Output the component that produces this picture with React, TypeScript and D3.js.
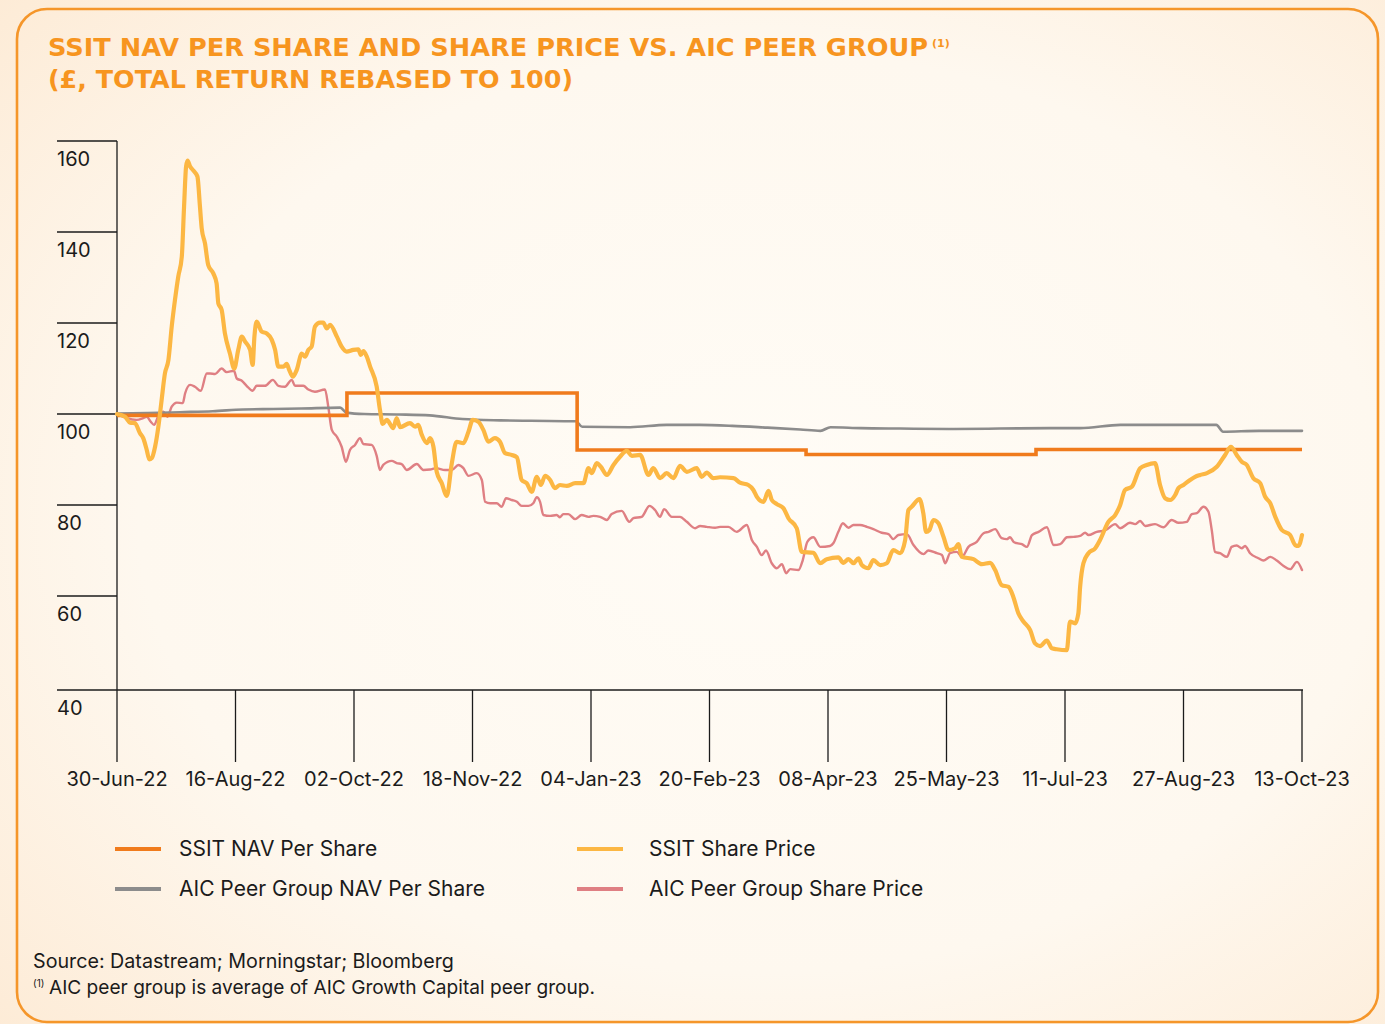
import React from "react";
import * as d3 from "d3";

const START = Date.UTC(2022, 5, 30);
const END = Date.UTC(2023, 9, 13);

const xTickDates = ["2022-06-30","2022-08-16","2022-10-02","2022-11-18","2023-01-04","2023-02-20","2023-04-08","2023-05-25","2023-07-11","2023-08-27","2023-10-13"];
const yTicks = [160, 140, 120, 100, 80, 60, 40];

// [days since 30-Jun-22, value]
const ssitNav: [number, number][] = [[0,99.7],[91.2,104.6],[182.5,92.1],[273.3,91.1],[364.5,92.2],[470,92.2]];

const aicNav: [number, number][] = [[0,100.1],[12,100.2],[25,100.4],[38,100.6],[50,101.0],[62,101.1],[73,101.2],[88.5,101.4],[91,100.3],[98,100],[112,99.9],[124,99.7],[137,98.9],[152,98.6],[164,98.5],[182,98.4],[184.5,97.2],[203.5,97.1],[218,97.6],[231,97.6],[244,97.4],[258,97.0],[271,96.6],[279,96.3],[283,97.1],[295,96.9],[310.6,96.8],[330,96.7],[350,96.8],[370,96.9],[382,96.9],[398,97.6],[418,97.6],[436,97.6],[438.7,96.1],[453,96.3],[470,96.3]];

const ssitPrice: [number, number][] = [[0,100],[3.2,99.4],[5.2,98.1],[7.1,98.0],[9.1,95.8],[10.4,94.7],[11.8,92.1],[12.8,90.0],[13.8,90.3],[15.1,92.8],[16.4,97.2],[17.7,103.1],[19.0,108.9],[20.4,111.9],[21.7,119.2],[23.0,125.1],[24.3,130.2],[25.7,134.6],[26.6,145.6],[27.4,154.4],[28.0,155.7],[29.0,154.4],[30.3,153.5],[31.9,152.2],[32.9,145.6],[33.6,140.8],[34.9,137.5],[36.2,132.7],[38.2,130.9],[39.5,128.7],[40.2,124.3],[41.5,122.9],[42.8,117.7],[44.8,113.3],[46.5,110.0],[48.1,114.1],[49.5,117.0],[50.8,115.9],[52.8,114.1],[53.8,110.8],[54.5,117.0],[55.4,120.3],[57.4,118.1],[59.4,117.7],[61.4,116.3],[62.7,114.1],[64.0,110.4],[66.0,110.4],[67.3,111.0],[68.3,109.7],[69.7,108.2],[71.3,109.7],[73.3,113.3],[74.6,112.6],[75.9,114.1],[77.2,114.8],[78.5,119.2],[80.5,120.1],[81.8,120.1],[83.2,118.8],[84.5,119.6],[87.2,117.0],[89.1,114.8],[91.1,113.7],[93.7,114.1],[95.7,114.2],[96.7,113.0],[97.7,113.8],[99.0,112.7],[100.4,110.4],[103.0,106.0],[104.3,100.9],[105.4,97.8],[107.0,98.7],[109.6,96.9],[110.9,99.1],[112.3,97.1],[116.2,98.0],[118.2,97.2],[119.5,97.6],[120.9,95.4],[122.9,93.6],[124.2,94.7],[125.5,92.8],[126.8,87.3],[128.8,84.8],[130.8,82.0],[132.8,89.2],[134.7,93.9],[137.4,93.6],[139.4,96.1],[141.1,98.7],[143.3,98.3],[145.3,96.5],[147.3,93.9],[149.9,94.7],[151.9,93.9],[153.9,91.4],[156.6,91.0],[158.6,90.5],[160.5,85.5],[162.5,84.8],[164.5,82.9],[166.5,86.2],[168.1,84.4],[169.8,86.4],[171.8,85.5],[173.7,83.7],[175.7,84.4],[178.4,84.2],[181.7,84.8],[185.0,84.8],[187.0,88.1],[188.3,87.0],[190.3,89.2],[191.9,88.4],[194.3,86.6],[196.9,88.8],[199.5,90.6],[202.2,91.9],[204.2,90.8],[207.5,91.0],[210.8,86.6],[212.7,88.1],[215.4,85.9],[218.0,87.0],[220.7,85.9],[223.3,88.6],[226.0,87.3],[229.9,88.1],[231.9,86.2],[233.9,87.1],[236.5,85.9],[239.2,86.1],[244.5,85.9],[247.1,84.9],[250.4,84.4],[252.4,83.3],[253.8,81.8],[256.4,80.7],[258.4,83.1],[259.7,81.1],[261.7,80.2],[264.3,79.3],[266.3,77.1],[269.6,74.9],[271.6,69.7],[276.2,69.5],[278.9,67.2],[281.5,68.1],[286.1,68.5],[288.1,67.3],[290.1,68.1],[292.1,67.2],[294.1,68.3],[295.4,66.8],[298.0,66.1],[300.0,67.9],[302.7,66.8],[305.3,67.2],[307.9,70.1],[310.6,69.4],[312.6,72.3],[313.9,78.9],[315.2,79.6],[318.3,81.3],[319.8,78.2],[320.9,74.1],[322.2,74.5],[323.8,76.7],[325.8,76.0],[327.8,73.0],[329.8,70.1],[332.4,70.5],[333.7,71.4],[335.1,68.6],[339.7,68.1],[343.0,67.0],[346.3,67.3],[348.3,65.7],[350.9,62.4],[353.6,62.0],[355.5,59.8],[357.5,56.2],[359.5,54.4],[362.2,52.5],[364.1,49.6],[366.1,49.0],[368.8,50.2],[370.8,48.5],[372.7,48.3],[376.7,48.1],[378.0,54.4],[380.0,54.0],[381.3,56.2],[382.0,62.0],[383.3,67.2],[385.3,69.4],[388.0,70.5],[389.9,72.3],[393.2,76.3],[395.9,77.8],[397.9,80.0],[399.8,83.3],[402.5,84.0],[405.8,88.1],[408.4,88.8],[411.7,89.2],[413.7,84.4],[415.7,81.5],[417.7,81.1],[419.7,82.2],[421.0,83.7],[423.0,84.4],[425.6,85.5],[427.6,86.2],[429.6,86.6],[432.3,87.0],[436.2,88.4],[439.5,91.0],[441.8,92.8],[444.1,91.0],[446.1,89.5],[448.1,88.8],[450.7,85.9],[453.4,84.8],[455.4,81.8],[457.4,80.4],[459.4,77.4],[462.0,74.5],[465.3,73.4],[467.3,71.2],[468.6,71.0],[470,73.4]];

const aicPrice: [number, number][] = [[0,100],[3.8,99.1],[7.8,98.7],[10.4,99.1],[11.8,99.4],[13.4,98.3],[14.7,97.6],[16.4,99.6],[18.4,100.5],[20.0,99.4],[21.7,101.6],[23.7,102.5],[26.1,102.4],[27.0,104.5],[29.0,106.4],[30.9,106.0],[33.2,105.1],[35.6,108.9],[36.9,108.9],[38.9,108.8],[41.5,110.0],[43.5,109.2],[46.4,109.5],[47.5,107.8],[49.5,107.3],[51.4,106.2],[53.8,105.1],[55.4,106.2],[58.7,106.2],[61.8,107.5],[64.0,106.2],[66.6,106.0],[69.3,107.5],[70.6,106.2],[73.9,106.2],[75.9,105.4],[78.5,104.9],[82.5,105.4],[83.8,101.6],[85.2,96.5],[87.2,95.0],[89.1,92.8],[90.8,89.5],[92.4,92.1],[94.4,93.2],[96.4,94.7],[97.7,93.4],[101.0,93.2],[103.0,90.8],[104.3,87.7],[105.6,88.8],[109.0,89.7],[110.9,89.2],[112.9,89.0],[114.9,87.7],[118.9,89.0],[121.5,87.7],[124.2,87.8],[126.5,88.1],[130.1,87.7],[132.8,87.7],[135.4,88.8],[137.4,88.1],[139.4,86.4],[142.7,87.0],[144.7,85.5],[146.0,80.7],[148.0,80.4],[150.6,80.4],[152.6,79.6],[154.3,81.5],[156.6,81.1],[158.6,80.7],[160.5,79.8],[163.2,79.8],[165.1,80.4],[166.5,81.7],[167.8,80.7],[169.1,77.8],[171.8,77.6],[174.4,77.8],[175.7,77.3],[177.0,78.0],[179.0,78.0],[181.7,76.9],[184.3,77.8],[187.0,77.4],[188.9,77.6],[191.6,77.4],[194.3,76.7],[196.2,78.0],[200.2,78.7],[203.2,76.3],[204.8,77.1],[208.1,77.4],[211.2,79.8],[213.4,78.9],[215.4,77.4],[217.0,79.1],[220.0,77.4],[223.3,77.4],[226.0,76.3],[229.3,74.9],[231.3,75.4],[233.9,75.2],[237.2,75.0],[239.2,75.2],[242.5,75.2],[245.8,74.1],[249.8,75.6],[251.8,72.3],[253.8,70.8],[255.7,69.0],[257.4,70.0],[259.7,67.2],[261.7,66.1],[263.7,67.0],[265.4,65.0],[267.0,65.9],[270.3,65.7],[272.0,67.9],[273.8,71.9],[276.2,72.9],[278.9,70.8],[282.8,71.0],[284.1,71.6],[286.1,74.1],[287.9,76.0],[290.1,75.0],[292.1,75.6],[294.7,75.6],[297.4,75.2],[300.0,74.7],[303.3,73.9],[306.0,73.6],[307.9,72.5],[309.9,73.4],[313.3,73.6],[315.9,71.2],[319.9,69.2],[321.8,70.0],[325.2,69.4],[327.2,69.0],[328.5,67.2],[330.4,69.4],[333.1,69.7],[335.1,68.6],[337.7,70.8],[341.0,71.9],[343.7,73.8],[345.7,74.1],[348.3,74.7],[350.9,72.7],[352.9,72.5],[354.2,72.9],[355.6,71.9],[356.9,71.6],[358.9,71.4],[360.9,70.8],[362.9,73.4],[365.5,74.1],[368.8,75.1],[371.5,71.2],[374.1,71.4],[376.8,72.9],[379.4,73.0],[382.0,73.2],[384.0,73.9],[385.3,73.4],[388.6,74.1],[391.9,74.4],[395.9,75.8],[397.9,74.9],[401.8,76.1],[403.8,75.8],[405.8,76.5],[407.8,75.4],[411.7,75.8],[415.0,75.1],[418.3,76.7],[421.0,76.1],[424.3,76.3],[426.3,78.0],[428.3,78.2],[430.9,79.6],[432.9,78.5],[434.2,74.5],[435.5,69.7],[437.5,69.4],[440.2,68.6],[442.1,70.8],[444.1,71.1],[446.1,70.5],[447.4,71.0],[449.4,69.4],[452.7,68.3],[454.7,67.8],[457.4,68.6],[460.0,67.8],[462.7,66.6],[465.3,65.9],[468.0,67.5],[470,65.7]];

const legendItems = [
  { label: "SSIT NAV Per Share", color: "#f07b1c" },
  { label: "SSIT Share Price", color: "#fcb743" },
  { label: "AIC Peer Group NAV Per Share", color: "#8c8c8c" },
  { label: "AIC Peer Group Share Price", color: "#df7f83" },
];

const titleLines = ["SSIT NAV PER SHARE AND SHARE PRICE VS. AIC PEER GROUP", "(£, TOTAL RETURN REBASED TO 100)"];
const sourceText = "Source: Datastream; Morningstar; Bloomberg";
const noteText = "AIC peer group is average of AIC Growth Capital peer group.";

const W = 1385, H = 1024;
const FONT = "Inter, 'Noto Sans', sans-serif";
const TEXT = "#1b1b1b";

export default function App() {
  const x = d3.scaleUtc().domain([new Date(START), new Date(END)]).range([117, 1302]);
  const y = d3.scaleLinear().domain([40, 160]).range([687, 141]);
  const toDate = (d: number) => new Date(START + d * 86400000);
  const line = d3.line<[number, number]>().x((p) => x(toDate(p[0]))).y((p) => y(p[1])).curve(d3.curveMonotoneX);
  const stepLine = d3.line<[number, number]>().x((p) => x(toDate(p[0]))).y((p) => y(p[1])).curve(d3.curveStepAfter);
  const fmt = d3.utcFormat("%d-%b-%y");
  const baseY = 690;
  const tickDates = xTickDates.map((s) => new Date(s + "T00:00:00Z"));

  return (
    <svg width={W} height={H} style={{ position: "absolute", left: 0, top: 0, display: "block" }} fontFamily={FONT}>
      <defs>
        <radialGradient id="bg" cx="0.55" cy="0.5" r="0.75">
          <stop offset="0" stopColor="#fffcf6" />
          <stop offset="0.6" stopColor="#fef8ef" />
          <stop offset="1" stopColor="#fdebd6" />
        </radialGradient>
      </defs>
      <rect x={0} y={0} width={W} height={H} fill="url(#bg)" />
      <rect x={17} y={9} width={1361} height={1013} rx={30} ry={30} fill="none" stroke="#f5962a" strokeWidth={2.6} />

      {/* Title */}
      <g fill="#f7951f" fontFamily="'DejaVu Sans', sans-serif" fontWeight="bold">
        <text x={48} y={56} fontSize={24} textLength={880} lengthAdjust="spacingAndGlyphs">{titleLines[0]}</text>
        <text x={932} y={47} fontSize={11}>(1)</text>
        <text x={48} y={88} fontSize={24} textLength={525} lengthAdjust="spacingAndGlyphs">{titleLines[1]}</text>
      </g>

      {/* Axes */}
      <g stroke={TEXT} strokeWidth={1.3}>
        <line x1={117} x2={117} y1={y(160)} y2={baseY} />
        {yTicks.filter((t) => t !== 40).map((t) => (
          <line key={t} x1={57} x2={117} y1={y(t)} y2={y(t)} />
        ))}
        <line x1={57} x2={1303} y1={baseY} y2={baseY} />
        {tickDates.map((d, i) => (
          <line key={i} x1={x(d)} x2={x(d)} y1={baseY} y2={762} />
        ))}
      </g>
      <g fill={TEXT} fontSize={20}>
        {yTicks.map((t) => (
          <text key={t} x={57} y={(t === 40 ? baseY : y(t)) + 25}>{t}</text>
        ))}
        {tickDates.map((d, i) => (
          <text key={i} x={x(d)} y={786} textAnchor="middle">{fmt(d)}</text>
        ))}
      </g>

      {/* Series */}
      <g fill="none" strokeLinejoin="round" strokeLinecap="round">
        <path d={line(aicPrice) || ""} stroke="#df7f83" strokeWidth={2.4} />
        <path d={line(aicNav) || ""} stroke="#8c8c8c" strokeWidth={2.6} />
        <path d={stepLine(ssitNav) || ""} stroke="#f07b1c" strokeWidth={3.6} strokeLinejoin="miter" strokeLinecap="butt" />
        <path d={line(ssitPrice) || ""} stroke="#fcb743" strokeWidth={4.2} />
      </g>

      {/* Legend */}
      <g fontSize={21} fill={TEXT}>
        {legendItems.map((it, i) => {
          const col = i % 2, row = Math.floor(i / 2);
          const lx = col === 0 ? 115 : 577;
          const tx = col === 0 ? 179 : 649;
          const ly = 849 + row * 40;
          return (
            <g key={it.label}>
              <line x1={lx} x2={lx + 46} y1={ly} y2={ly} stroke={it.color} strokeWidth={4} />
              <text x={tx} y={ly + 7}>{it.label}</text>
            </g>
          );
        })}
      </g>

      {/* Footnotes */}
      <g fill={TEXT}>
        <text x={33} y={968} fontSize={19.7}>{sourceText}</text>
        <text x={33} y={987} fontSize={10}>(1)</text>
        <text x={49} y={994} fontSize={19.1}>{noteText}</text>
      </g>
    </svg>
  );
}
